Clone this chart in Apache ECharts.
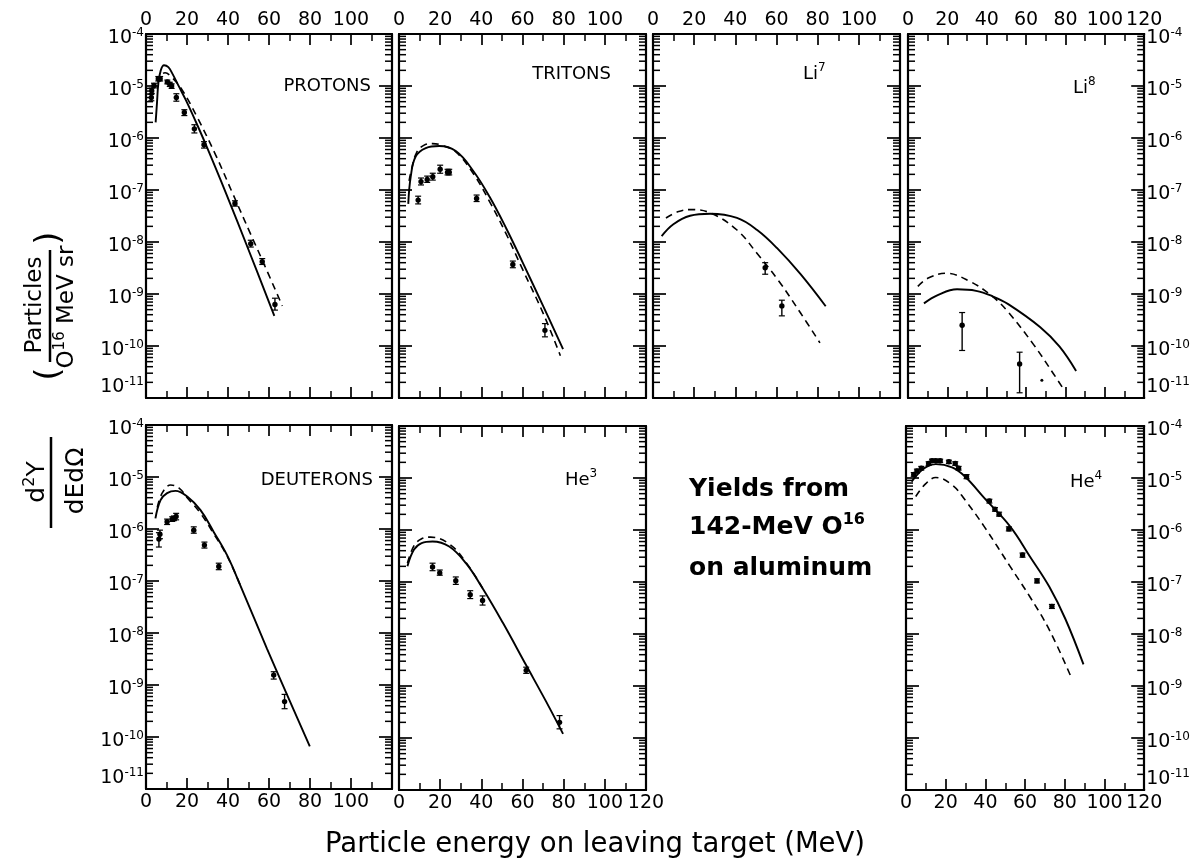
<!DOCTYPE html>
<html><head><meta charset="utf-8">
<script src="https://cdn.jsdelivr.net/npm/echarts@6/dist/echarts.min.js"></script>
<style>html,body{margin:0;padding:0;background:#fff}#c{width:1193px;height:861px}</style>
</head><body><div id="c"></div>
<script>
// ---------------- DATA (energy MeV, yield) ----------------
const xTickLabels = ['0', '20', '40', '60', '80', '100', '120'];
const yExponents = [-11, -10, -9, -8, -7, -6, -5, -4];
const minorMultipliers = [2, 3, 4, 5, 6, 7, 8, 9];
const panelNames = ['PROTONS', 'TRITONS', 'Li7', 'Li8', 'DEUTERONS', 'He3', 'He4'];

const protonSolid = [[4.7,2.0e-6],[5.4,5e-6],[6.0,1.1e-5],[7.2,2.0e-5],[8.8,2.5e-5],[10.9,2.3e-5],[12.8,1.75e-5],[16.1,9.7e-6],[19.4,5.4e-6],[24.2,2.1e-6],[29.1,7.6e-7],[38.9,8.9e-8],[50,7.1e-9],[62.6,3.8e-10]];
const protonDashed = [[5.8,1.1e-5],[7,1.55e-5],[9.3,1.8e-5],[12,1.55e-5],[17.7,8.3e-6],[25,2.5e-6],[34,4.7e-7],[42.1,8.9e-8],[51.1,1.4e-8],[56.7,4.5e-9],[66.5,5.9e-10]];
const protonPoints = [[2.6,6.0e-6,5.2e-6,6.9e-6],[2.8,8.1e-6,7.2e-6,9.1e-6],[3.9,1.02e-5,9.2e-6,1.13e-5],[6.0,1.38e-5,1.25e-5,1.52e-5],[6.9,1.38e-5,1.25e-5,1.52e-5],[10.4,1.2e-5,1.1e-5,1.3e-5],[11.6,1.08e-5,9.8e-6,1.18e-5],[12.5,1.0e-5,9.0e-6,1.1e-5],[14.8,6.0e-6,5.1e-6,7.1e-6],[18.7,3.1e-6,2.7e-6,3.5e-6],[23.6,1.5e-6,1.25e-6,1.8e-6],[28.3,7.4e-7,6.4e-7,8.5e-7],[43.4,5.5e-8,4.9e-8,6.2e-8],[51.1,9.3e-9,8.0e-9,1.08e-8],[56.7,4.2e-9,3.7e-9,4.8e-9],[62.9,6.3e-10,4.9e-10,8.3e-10]];

const tritonSolid = [[4.5,5.4e-8],[5.7,1.8e-7],[8.1,4.4e-7],[13,6.4e-7],[19.5,7.0e-7],[27.6,5.6e-7],[36,2.35e-7],[44,7.4e-8],[52,1.86e-8],[60,4.1e-9],[70,5.9e-10],[79.7,8.7e-11]];
const tritonDashed = [[4.9,1.5e-7],[6.2,2.6e-7],[8.5,5.2e-7],[12,7.2e-7],[16.3,7.8e-7],[21,7.2e-7],[27.6,5.4e-7],[36,2.1e-7],[44,6.0e-8],[52,1.45e-8],[60,3.0e-9],[70,4.3e-10],[78.4,6.5e-11]];
const tritonPoints = [[9.3,6.4e-8,5.4e-8,7.6e-8],[10.7,1.45e-7,1.25e-7,1.7e-7],[13.7,1.6e-7,1.4e-7,1.85e-7],[16.4,1.8e-7,1.55e-7,2.1e-7],[20,2.5e-7,2.1e-7,3.0e-7],[23.6,2.2e-7,1.95e-7,2.5e-7],[24.4,2.2e-7,1.95e-7,2.5e-7],[37.7,6.9e-8,6.0e-8,8.0e-8],[55.3,3.7e-9,3.2e-9,4.3e-9],[70.9,2.0e-10,1.5e-10,2.7e-10]];

const li7Solid = [[4.2,1.3e-8],[9.9,2.2e-8],[18,3.2e-8],[27.8,3.5e-8],[40.8,2.9e-8],[50.6,1.7e-8],[60.3,7.6e-9],[71.7,2.4e-9],[83.9,5.8e-10]];
const li7Dashed = [[6.3,2.9e-8],[12,3.8e-8],[18,4.2e-8],[28,3.6e-8],[40.8,1.7e-8],[50.6,6.0e-9],[61,1.8e-9],[71.7,4.3e-10],[81.1,1.15e-10]];
const li7Points = [[54.5,3.2e-9,2.4e-9,4.0e-9],[62.6,5.9e-10,3.8e-10,7.6e-10]];

const li8Solid = [[8.1,6.6e-10],[15.1,9.5e-10],[24.9,1.23e-9],[34.6,1.15e-9],[42.8,9.1e-10],[50.9,6.4e-10],[67.2,2.3e-10],[76.9,9.8e-11],[85.4,3.3e-11]];
const li8Dashed = [[5,1.4e-9],[10,2.0e-9],[19.2,2.5e-9],[31.4,1.75e-9],[43,8.9e-10],[50.9,4.5e-10],[63.9,1.05e-10],[73.7,3.0e-11],[78.9,1.5e-11]];
const li8Points = [[27.5,2.5e-10,8.2e-11,4.4e-10],[56.7,4.5e-11,1.26e-11,7.6e-11],[68,2.2e-11,0,0]];

const deutSolid = [[4.6,1.6e-6],[7.1,3.6e-6],[10.3,4.9e-6],[14.4,5.4e-6],[20.1,4.2e-6],[26.6,2.3e-6],[33.1,8.7e-7],[39.6,3.1e-7],[46.1,8.1e-8],[59.1,4.9e-9],[72.1,3.3e-10],[79.9,6.6e-11]];
const deutDashed = [[5.5,2.6e-6],[8,5.0e-6],[12,7.0e-6],[16,6.2e-6],[20.1,4.0e-6],[26.6,2.0e-6],[33.1,8.0e-7],[39.6,3.0e-7],[46.1,8.1e-8]];
const deutPoints = [[6.3,6.4e-7,4.5e-7,8.5e-7],[6.8,7.9e-7,6.5e-7,9.5e-7],[10.3,1.38e-6,1.22e-6,1.55e-6],[12.8,1.55e-6,1.4e-6,1.72e-6],[13.6,1.6e-6,1.45e-6,1.78e-6],[14.7,1.74e-6,1.5e-6,2.0e-6],[23.3,9.5e-7,8.3e-7,1.1e-6],[28.5,4.9e-7,4.3e-7,5.6e-7],[35.5,1.9e-7,1.65e-7,2.2e-7],[62.3,1.55e-9,1.3e-9,1.8e-9],[67.6,4.8e-10,3.5e-10,6.6e-10]];

const he3Solid = [[4.1,2.0e-7],[7.3,4.2e-7],[11,5.6e-7],[16.3,6.0e-7],[24.4,4.8e-7],[32.5,2.3e-7],[40.6,7.6e-8],[50.4,1.66e-8],[61.8,2.5e-9],[71.5,5.0e-10],[79.7,1.2e-10]];
const he3Dashed = [[4.1,2.3e-7],[7.3,5.0e-7],[11,6.8e-7],[15.4,7.3e-7],[24.4,5.4e-7],[32.5,2.4e-7],[40.6,7.6e-8]];
const he3Points = [[16.3,1.95e-7,1.65e-7,2.3e-7],[19.8,1.5e-7,1.35e-7,1.7e-7],[27.6,1.06e-7,9.0e-8,1.25e-7],[34.6,5.7e-8,4.8e-8,6.8e-8],[40.6,4.4e-8,3.6e-8,5.4e-8],[61.8,2.0e-9,1.75e-9,2.3e-9],[78,2.0e-10,1.5e-10,2.7e-10]];

const he4Solid = [[2.8,8.5e-6],[6.9,1.3e-5],[10.5,1.65e-5],[15,1.85e-5],[23.2,1.6e-5],[29.7,1.07e-5],[39.5,4.1e-6],[52.6,1.15e-6],[62.4,3.1e-7],[72.2,8.1e-8],[80.4,1.9e-8],[89.4,2.6e-9]];
const he4Dashed = [[4.9,4.4e-6],[10.1,7.9e-6],[15,1.02e-5],[23.2,7.4e-6],[29.7,3.8e-6],[39.5,1.15e-6],[52.6,1.95e-7],[62.4,5.2e-8],[72.2,1.2e-8],[82.8,1.6e-9]];
const he4Points = [[3.9,1.17e-5,1.08e-5,1.27e-5],[5.5,1.36e-5,1.25e-5,1.48e-5],[7.7,1.54e-5,1.42e-5,1.67e-5],[11.4,1.9e-5,1.75e-5,2.05e-5],[13.1,2.15e-5,2.0e-5,2.3e-5],[15,2.15e-5,2.0e-5,2.3e-5],[17.2,2.15e-5,2.0e-5,2.3e-5],[21.6,2.05e-5,1.9e-5,2.2e-5],[24.8,1.9e-5,1.75e-5,2.05e-5],[26.5,1.54e-5,1.42e-5,1.67e-5],[30.5,1.06e-5,9.7e-6,1.16e-5],[42,3.6e-6,3.3e-6,3.9e-6],[44.8,2.5e-6,2.3e-6,2.7e-6],[46.9,2.0e-6,1.85e-6,2.2e-6],[51.8,1.05e-6,9.6e-7,1.15e-6],[58.7,3.3e-7,3.0e-7,3.6e-7],[66,1.05e-7,9.6e-8,1.15e-7],[73.5,3.4e-8,3.1e-8,3.7e-8]];

const solids = [protonSolid, tritonSolid, li7Solid, li8Solid, deutSolid, he3Solid, he4Solid];
const dasheds = [protonDashed, tritonDashed, li7Dashed, li8Dashed, deutDashed, he3Dashed, he4Dashed];
const pointsets = [protonPoints, tritonPoints, li7Points, li8Points, deutPoints, he3Points, he4Points];

// ---------------- LAYOUT / STYLE ----------------
const FONT = 'DejaVu Sans';
const boxes = [[146,34,246,364],[399,34,247,364],[653,34,247,364],[908,34,246,364],[146,425,246,364],[399,426,247,364],[906,426,246,364]];
const xLabelSide = ['top','top','top','top','bottom','bottom','bottom'];
const yLabelSide = ['left',null,null,'right','left',null,'right'];
const show120 = [false,false,false,true,false,true,true];

const minorTickValues = [];
yExponents.slice(0, -1).forEach(d => minorMultipliers.forEach(m => minorTickValues.push(m * Math.pow(10, d))));

const grid = [], xAxis = [], yAxis = [], series = [];
const yRich = {
  b: { fontFamily: FONT, fontSize: 19, color: '#000', lineHeight: 22 },
  s: { fontFamily: FONT, fontSize: 12, color: '#000', lineHeight: 12, verticalAlign: 'top' }
};
function yFmt(v) {
  const e = Math.round(Math.log10(v));
  return '{b|10}{s|' + (e < 0 ? '-' : '') + Math.abs(e) + '}';
}
const frameLine = { show: true, onZero: false, lineStyle: { color: '#000', width: 2.2 } };

boxes.forEach((b, i) => {
  grid.push({ left: b[0], top: b[1], width: b[2], height: b[3], show: false });
  ['bottom', 'top'].forEach(pos => {
    xAxis.push({
      type: 'value', gridIndex: i, position: pos, min: 0, max: 120, interval: 20,
      axisLine: frameLine, splitLine: { show: false },
      axisTick: { show: true, inside: true, length: 11, lineStyle: { color: '#000', width: 1.7 } },
      minorTick: { show: true, splitNumber: 2, length: 7, lineStyle: { color: '#000', width: 1.5 } },
      axisLabel: {
        show: xLabelSide[i] === pos, margin: 4, color: '#000', fontFamily: FONT, fontSize: 19,
        formatter: v => { const idx = Math.round(v / 20); if (idx === 6 && !show120[i]) return ''; return xTickLabels[idx]; }
      }
    });
  });
  ['left', 'right'].forEach(pos => {
    yAxis.push({
      type: 'log', logBase: 10, gridIndex: i, position: pos, min: 1e-11, max: 1e-4,
      axisLine: frameLine, splitLine: { show: false },
      axisTick: { show: true, inside: true, length: 13, lineStyle: { color: '#000', width: 1.7 } },
      axisLabel: {
        show: yLabelSide[i] === pos, margin: 2, formatter: yFmt, rich: yRich, padding: [8, 0, 0, 0],
        verticalAlignMinLabel: 'bottom'
      }
    });
  });
  const xa = 2 * i, ya = 2 * i;
  // minor (log) ticks on both vertical edges, positioned by the log axis
  series.push({
    type: 'custom', xAxisIndex: xa, yAxisIndex: ya, data: [[60, 1e-7]], silent: true, clip: false, z: 5,
    renderItem: (p, api) => {
      const ch = [];
      minorTickValues.forEach(v => {
        const l = api.coord([0, v]), r = api.coord([120, v]);
        ch.push({ type: 'line', shape: { x1: l[0], y1: l[1], x2: l[0] + 7, y2: l[1] }, style: { stroke: '#000', lineWidth: 1.5 } });
        ch.push({ type: 'line', shape: { x1: r[0] - 7, y1: r[1], x2: r[0], y2: r[1] }, style: { stroke: '#000', lineWidth: 1.5 } });
      });
      return { type: 'group', children: ch };
    }
  });
  series.push({ type: 'line', xAxisIndex: xa, yAxisIndex: ya, data: solids[i], showSymbol: false, smooth: 0.4, silent: true,
    lineStyle: { color: '#000', width: 1.9 } });
  series.push({ type: 'line', xAxisIndex: xa, yAxisIndex: ya, data: dasheds[i], showSymbol: false, smooth: 0.4, silent: true,
    lineStyle: { color: '#000', width: 1.6, type: [7, 5] } });
  series.push({
    type: 'custom', xAxisIndex: xa, yAxisIndex: ya, data: pointsets[i], silent: true,
    renderItem: (p, api) => {
      const e = api.value(0), v = api.value(1), lo = api.value(2), hi = api.value(3);
      const c = api.coord([e, v]);
      const ch = [];
      if (lo > 0 && hi > 0) {
        const a = api.coord([e, lo]), t = api.coord([e, hi]);
        ch.push({ type: 'line', shape: { x1: a[0], y1: a[1], x2: t[0], y2: t[1] }, style: { stroke: '#000', lineWidth: 1.4 } });
        ch.push({ type: 'line', shape: { x1: a[0] - 3, y1: a[1], x2: a[0] + 3, y2: a[1] }, style: { stroke: '#000', lineWidth: 1.2 } });
        ch.push({ type: 'line', shape: { x1: t[0] - 3, y1: t[1], x2: t[0] + 3, y2: t[1] }, style: { stroke: '#000', lineWidth: 1.2 } });
        ch.push({ type: 'circle', shape: { cx: c[0], cy: c[1], r: 2.7 }, style: { fill: '#000' } });
      } else {
        ch.push({ type: 'circle', shape: { cx: c[0], cy: c[1], r: 1.5 }, style: { fill: '#000' } });
      }
      return { type: 'group', children: ch };
    }
  });
});

const supS = { fontFamily: FONT, fontSize: 12, color: '#000', lineHeight: 12, verticalAlign: 'top' };
const mainS = { fontFamily: FONT, fontSize: 18, color: '#000', lineHeight: 24 };
function panelText(txt, x, y, align) {
  return { type: 'text', x: x, y: y, silent: true, style: { text: txt, align: align, verticalAlign: 'middle', rich: { m: mainS, s: supS }, fontFamily: FONT, fontSize: 18, fill: '#000' } };
}
const graphic = [
  panelText('{m|' + panelNames[0] + '}', 371, 86, 'right'),
  panelText('{m|' + panelNames[1] + '}', 611, 74, 'right'),
  panelText('{m|Li}{s|7}', 803, 74, 'left'),
  panelText('{m|Li}{s|8}', 1073, 88, 'left'),
  panelText('{m|' + panelNames[4] + '}', 373, 480, 'right'),
  panelText('{m|He}{s|3}', 565, 480, 'left'),
  panelText('{m|He}{s|4}', 1070, 482, 'left'),
  // centre legend text
  { type: 'text', x: 689, y: 489, silent: true, style: { text: 'Yields from', fontFamily: FONT, fontWeight: 'bold', fontSize: 25, fill: '#000', align: 'left', verticalAlign: 'middle' } },
  { type: 'text', x: 689, y: 527, silent: true, style: { text: '{m|142-MeV O}{s|16}', align: 'left', verticalAlign: 'middle',
      rich: { m: { fontFamily: FONT, fontWeight: 'bold', fontSize: 25, lineHeight: 30 }, s: { fontFamily: FONT, fontWeight: 'bold', fontSize: 16, lineHeight: 16, verticalAlign: 'top' } } } },
  { type: 'text', x: 689, y: 568, silent: true, style: { text: 'on aluminum', fontFamily: FONT, fontWeight: 'bold', fontSize: 25, fill: '#000', align: 'left', verticalAlign: 'middle' } },
  // x title
  { type: 'text', x: 595, y: 845, silent: true, style: { text: 'Particle energy on leaving target (MeV)', fontFamily: FONT, fontSize: 27.5, fill: '#000', align: 'center', verticalAlign: 'middle' } },
  // y title : d2Y / dE dOmega
  { type: 'text', x: 37, y: 482, rotation: Math.PI / 2, silent: true, style: { text: '{m|d}{s|2}{m|Y}', align: 'center', verticalAlign: 'middle',
      rich: { m: { fontFamily: FONT, fontSize: 25, lineHeight: 30 }, s: { fontFamily: FONT, fontSize: 16, lineHeight: 16, verticalAlign: 'top' } } } },
  { type: 'line', silent: true, shape: { x1: 51, y1: 437, x2: 51, y2: 528 }, style: { stroke: '#000', lineWidth: 2.5 } },
  { type: 'text', x: 76, y: 481, rotation: Math.PI / 2, silent: true, style: { text: 'dEdΩ', fontFamily: FONT, fontSize: 25, fill: '#000', align: 'center', verticalAlign: 'middle' } },
  // y title : (Particles / O16 MeV sr)
  { type: 'text', x: 35, y: 305, rotation: Math.PI / 2, silent: true, style: { text: 'Particles', fontFamily: FONT, fontSize: 23, fill: '#000', align: 'center', verticalAlign: 'middle' } },
  { type: 'line', silent: true, shape: { x1: 50, y1: 250, x2: 50, y2: 362 }, style: { stroke: '#000', lineWidth: 2.5 } },
  { type: 'text', x: 67, y: 307, rotation: Math.PI / 2, silent: true, style: { text: '{m|O}{s|16}{m| MeV sr}', align: 'center', verticalAlign: 'middle',
      rich: { m: { fontFamily: FONT, fontSize: 23, lineHeight: 28 }, s: { fontFamily: FONT, fontSize: 15, lineHeight: 15, verticalAlign: 'top' } } } },
  { type: 'text', x: 50, y: 374, rotation: Math.PI / 2, silent: true, style: { text: '(', fontFamily: FONT, fontSize: 34, fill: '#000', align: 'center', verticalAlign: 'middle' } },
  { type: 'text', x: 50, y: 238, rotation: Math.PI / 2, silent: true, style: { text: ')', fontFamily: FONT, fontSize: 34, fill: '#000', align: 'center', verticalAlign: 'middle' } }
];

const chart = echarts.init(document.getElementById('c'), null, { renderer: 'canvas' });
chart.setOption({ backgroundColor: '#fff', animation: false, grid, xAxis, yAxis, series, graphic });
</script></body></html>
